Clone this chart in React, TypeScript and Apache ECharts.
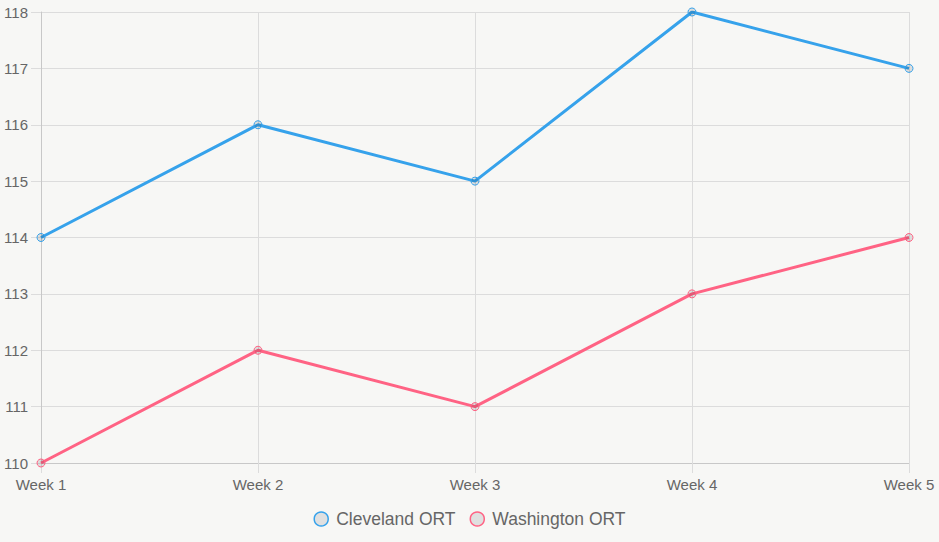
import React, { useEffect, useRef } from "react";
import * as echarts from "echarts";

const categories = ["Week 1", "Week 2", "Week 3", "Week 4", "Week 5"];
const clevelandValues = [114, 116, 115, 118, 117];
const washingtonValues = [110, 112, 111, 113, 114];
const seriesNames = ["Cleveland ORT", "Washington ORT"];
const seriesColors = ["#36a2eb", "#ff6384"];

const FONT = "'Liberation Sans', Arial, Helvetica, sans-serif";
const GRID_COLOR = "#dcdcdc";

export default function App() {
  const ref = useRef<HTMLDivElement>(null);
  useEffect(() => {
    if (!ref.current) return;
    const chart = echarts.init(ref.current, undefined, { renderer: "svg" });
    const dataSets = [clevelandValues, washingtonValues];
    chart.setOption({
      animation: false,
      backgroundColor: "#f7f7f5",
      textStyle: { fontFamily: FONT },
      grid: { left: 41, right: 30, top: 12, bottom: 79, containLabel: false },
      legend: {
        bottom: 9,
        left: "center",
        icon: "circle",
        itemWidth: 14,
        itemHeight: 14,
        itemGap: 14,
        textStyle: { fontSize: 17.5, color: "#666", fontFamily: FONT, padding: [0, 0, 0, 3] },
        data: seriesNames.map((n, i) => ({
          name: n,
          itemStyle: { color: "#e0e0e0", borderColor: seriesColors[i], borderWidth: 1.5 },
        })),
      },
      xAxis: {
        type: "category",
        data: categories,
        boundaryGap: false,
        axisLine: { show: true, lineStyle: { color: "#c8c8c8", width: 1 } },
        axisTick: { show: true, length: 10, lineStyle: { color: GRID_COLOR } },
        axisLabel: { color: "#666", fontSize: 15, margin: 14, fontFamily: FONT },
        splitLine: { show: true, lineStyle: { color: GRID_COLOR, width: 1 } },
      },
      yAxis: {
        type: "value",
        min: 110,
        max: 118,
        interval: 1,
        axisLine: { show: true, lineStyle: { color: "#c8c8c8", width: 1 } },
        axisTick: { show: true, length: 10, lineStyle: { color: GRID_COLOR } },
        axisLabel: { color: "#666", fontSize: 15, margin: 13, fontFamily: FONT },
        splitLine: { show: true, lineStyle: { color: GRID_COLOR, width: 1 } },
      },
      series: seriesNames.map((n, i) => ({
        name: n,
        type: "line",
        data: dataSets[i],
        symbol: "circle",
        symbolSize: 8,
        showSymbol: true,
        lineStyle: { color: seriesColors[i], width: 3 },
        itemStyle: { color: "rgba(0,0,0,0.1)", borderColor: seriesColors[i], borderWidth: 1 },
        emphasis: { disabled: true },
      })),
    });
    return () => chart.dispose();
  }, []);
  return <div ref={ref} style={{ width: 939, height: 542, position: "fixed", left: 0, top: 0 }} />;
}
